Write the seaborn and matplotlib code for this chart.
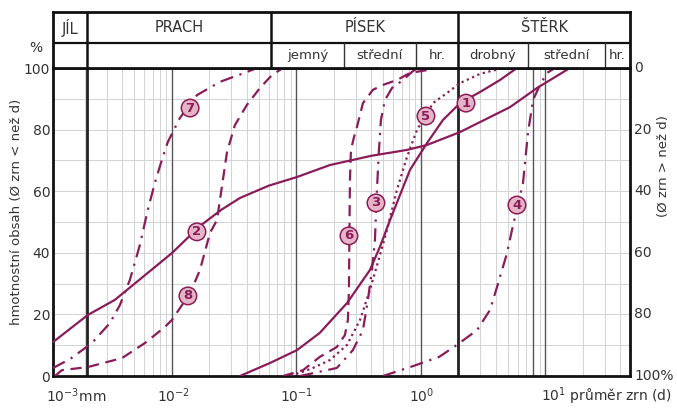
import matplotlib
matplotlib.use("Agg")
import matplotlib.pyplot as plt
import seaborn as sns

# ---------------- data (grain size d in mm, cumulative mass %) ----------------
c1_d = [0.0352, 0.0612, 0.101, 0.154, 0.255, 0.389, 0.469, 0.564, 0.816, 1.117, 1.50, 2.06, 2.98, 4.31, 5.90]
c1_p = [0, 4.2, 8.4, 14.0, 23.7, 34.4, 42.0, 50.6, 66.9, 75.6, 83.1, 88.6, 92.2, 96.1, 100]

c2_d = [0.00111, 0.00211, 0.00348, 0.0100, 0.0168, 0.0250, 0.0352, 0.0600, 0.101, 0.186, 0.400, 0.772, 1.117, 2.06, 5.19, 8.55, 15.7]
c2_p = [11.0, 19.8, 24.7, 39.9, 48.7, 54.0, 57.8, 61.8, 64.6, 68.5, 71.5, 73.4, 75.0, 79.2, 87.3, 93.5, 100]

c3_d = [0.107, 0.211, 0.284, 0.342, 0.375, 0.404, 0.427, 0.443, 0.460, 0.477, 0.514, 0.585, 0.717, 0.862, 0.946]
c3_p = [0, 2.6, 8.4, 14.9, 24.7, 34.4, 44.2, 60.4, 73.4, 83.1, 89.6, 93.5, 96.1, 99.0, 100]

c4_d = [0.495, 0.862, 1.40, 1.946, 2.82, 3.58, 4.08, 4.91, 5.38, 6.60, 7.23, 7.94, 9.03, 10.3, 11.9]
c4_p = [0, 3.2, 6.2, 10.1, 14.9, 21.4, 28.9, 39.9, 47.4, 62.7, 78.9, 89.6, 94.5, 98.4, 100]

c5_d = [0.0809, 0.107, 0.141, 0.186, 0.255, 0.324, 0.389, 0.469, 0.533, 0.641, 0.772, 0.929, 1.249, 1.62, 2.06, 2.98, 4.56]
c5_p = [0, 1.0, 2.9, 5.2, 10.1, 18.2, 27.9, 39.3, 47.4, 60.4, 71.1, 79.9, 88.6, 91.9, 95.1, 98.1, 100]

c6_d = [0.0780, 0.113, 0.154, 0.211, 0.245, 0.259, 0.264, 0.267, 0.269, 0.274, 0.290, 0.306, 0.342, 0.411, 0.495, 0.641, 0.816, 1.42]
c6_p = [0, 1.9, 6.2, 9.4, 13.3, 18.2, 27.9, 50.6, 63.6, 73.4, 77.6, 80.8, 88.6, 92.9, 94.5, 96.1, 98.4, 100]

c7_d = [0.00111, 0.00152, 0.00228, 0.00318, 0.00382, 0.00460, 0.00553, 0.00640, 0.00730, 0.00830, 0.00928, 0.0116, 0.0159, 0.0243, 0.0400, 0.0482]
c7_p = [2.6, 5.5, 10.7, 17.2, 23.0, 31.2, 42.5, 53.9, 62.7, 70.1, 76.0, 83.8, 91.2, 95.5, 98.7, 100]

c8_d = [0.00115, 0.00131, 0.00211, 0.00397, 0.00607, 0.00878, 0.0100, 0.0140, 0.0168, 0.0202, 0.0230, 0.0252, 0.0277, 0.0321, 0.0400, 0.0509, 0.0636, 0.0780]
c8_p = [0, 1.9, 2.9, 5.8, 10.7, 15.9, 18.2, 26.9, 34.4, 46.4, 50.6, 61.4, 72.7, 81.5, 88.0, 93.5, 97.7, 100]

curve_ids = ["1", "2", "3", "4", "5", "6", "7", "8"]
label_d = [2.30, 0.0159, 0.435, 5.90, 1.097, 0.264, 0.0140, 0.01345]
label_p = [88.6, 46.8, 56.2, 55.5, 84.4, 45.5, 87.0, 26.0]

y_ticks = [0, 20, 40, 60, 80, 100]
y_right_labels = ["100%", "80", "60", "40", "20", "0"]

# header: fractions
main_names = ["JÍL", "PRACH", "PÍSEK", "ŠTĚRK"]
main_bounds = [0.00111, 0.0021, 0.063, 2.0, 47.7]
sub_names = ["jemný", "střední", "hr.", "drobný", "střední", "hr."]
sub_bounds = [0.063, 0.24, 0.91, 2.0, 7.2, 30.0, 47.7]

# ---------------- style ----------------
sns.set_style("white")
plt.rcParams["font.family"] = ["DejaVu Sans"]
plt.rcParams["mathtext.default"] = "regular"

LINE = "#8a1c5a"
FILL = "#e6b4c7"
TXT = "#333333"
W, H = 677, 408
XMIN, XMAX = 0.00111, 47.7

fig = plt.figure(figsize=(W / 100, H / 100), dpi=100)
ax = fig.add_axes([53 / W, 1 - 376 / H, (630 - 53) / W, (376 - 68) / H])
hax = fig.add_axes([53 / W, 1 - 68 / H, (630 - 53) / W, (68 - 12) / H])

for a in (ax, hax):
    a.set_xscale("log")
    a.set_xlim(XMIN, XMAX)

ax.set_ylim(0, 100)

# grid
for n in range(-3, 2):
    for k in range(2, 10):
        v = k * 10 ** n
        if XMIN < v < XMAX:
            ax.axvline(v, color="#d2d2d2", lw=0.7, zorder=0)
for v in range(10, 100, 10):
    ax.axhline(v, color="#d2d2d2", lw=0.7, zorder=0)
for v in [0.01, 0.1, 1, 8, 10]:
    ax.axvline(v, color="#555555", lw=1.0, zorder=1)
for v in [0.0021, 2.0]:
    ax.axvline(v, color="#222222", lw=2.0, zorder=1)

styles = {
    "1": "-",
    "2": "-",
    "3": (0, (6, 3, 1, 3)),
    "4": (0, (6, 3, 1, 3)),
    "5": (0, (1, 1.6)),
    "6": (0, (5, 3)),
    "7": (0, (6, 3, 1, 3)),
    "8": (0, (5, 3)),
}
curves = {
    "1": (c1_d, c1_p), "2": (c2_d, c2_p), "3": (c3_d, c3_p), "4": (c4_d, c4_p),
    "5": (c5_d, c5_p), "6": (c6_d, c6_p), "7": (c7_d, c7_p), "8": (c8_d, c8_p),
}
for cid in curve_ids:
    xd, yd = curves[cid]
    sns.lineplot(x=xd, y=yd, ax=ax, color=LINE, lw=1.6, linestyle=styles[cid],
                 sort=False, estimator=None, zorder=3)

for cid, xd, yd in zip(curve_ids, label_d, label_p):
    ax.text(xd, yd, cid, ha="center", va="center", fontsize=9.5, fontweight="bold",
            color=LINE, zorder=5,
            bbox=dict(boxstyle="circle,pad=0.17", fc=FILL, ec=LINE, lw=1.1))

ax.set_xticks([])
ax.set_xticks([], minor=True)
ax.set_yticks(y_ticks)
ax.set_yticklabels([str(v) for v in y_ticks], fontsize=10, color=TXT)
ax.tick_params(axis="y", length=0, pad=2)
ax.set_xlabel("")
ax.set_ylabel("")
for s in ax.spines.values():
    s.set_color("#111111")
    s.set_linewidth(2.0)
    s.set_visible(True)

# header
hax.set_ylim(0, 56)
hax.set_xticks([])
hax.set_xticks([], minor=True)
hax.set_yticks([])
for s in hax.spines.values():
    s.set_color("#111111")
    s.set_linewidth(2.0)
    s.set_visible(True)
hax.axhline(25, color="#111111", lw=1.6)
for v in main_bounds[1:-1]:
    hax.axvline(v, color="#111111", lw=1.8)
for v in sub_bounds[1:-1]:
    if v not in main_bounds:
        hax.plot([v, v], [0, 25], color="#333333", lw=1.0)
for i, name in enumerate(main_names):
    xc = (main_bounds[i] * main_bounds[i + 1]) ** 0.5
    hax.text(xc, 40, name, ha="center", va="center", fontsize=10.5, color=TXT)
for i, name in enumerate(sub_names):
    xc = (sub_bounds[i] * sub_bounds[i + 1]) ** 0.5
    hax.text(xc, 12.5, name, ha="center", va="center", fontsize=9.5, color=TXT)

# x tick labels
def px(x, y):
    return x / W, 1 - y / H

fig.text(*px(46, 396), r"$10^{-3}$mm", ha="left", va="center", fontsize=10, color=TXT)
fig.text(*px(174, 396), r"$10^{-2}$", ha="center", va="center", fontsize=10, color=TXT)
fig.text(*px(297, 396), r"$10^{-1}$", ha="center", va="center", fontsize=10, color=TXT)
fig.text(*px(422, 396), r"$10^{0}$", ha="center", va="center", fontsize=10, color=TXT)
fig.text(*px(541, 396), r"$10^{1}$ průměr zrn (d)", ha="left", va="center", fontsize=10, color=TXT)

# right axis labels
for v, lab in zip(y_ticks, y_right_labels):
    fig.text(*px(634, 376 - v * 3.08), lab, ha="left", va="center", fontsize=10, color=TXT)

fig.text(*px(36, 48), "%", ha="center", va="center", fontsize=10, color=TXT)
fig.text(*px(17, 212), "hmotnostní obsah (Ø zrn < než d)", rotation=90,
         ha="center", va="center", fontsize=9.5, color=TXT)
fig.text(*px(664, 166), "(Ø zrn > než d)", rotation=90,
         ha="center", va="center", fontsize=9.5, color=TXT)

fig.savefig("out.png", dpi=100)
